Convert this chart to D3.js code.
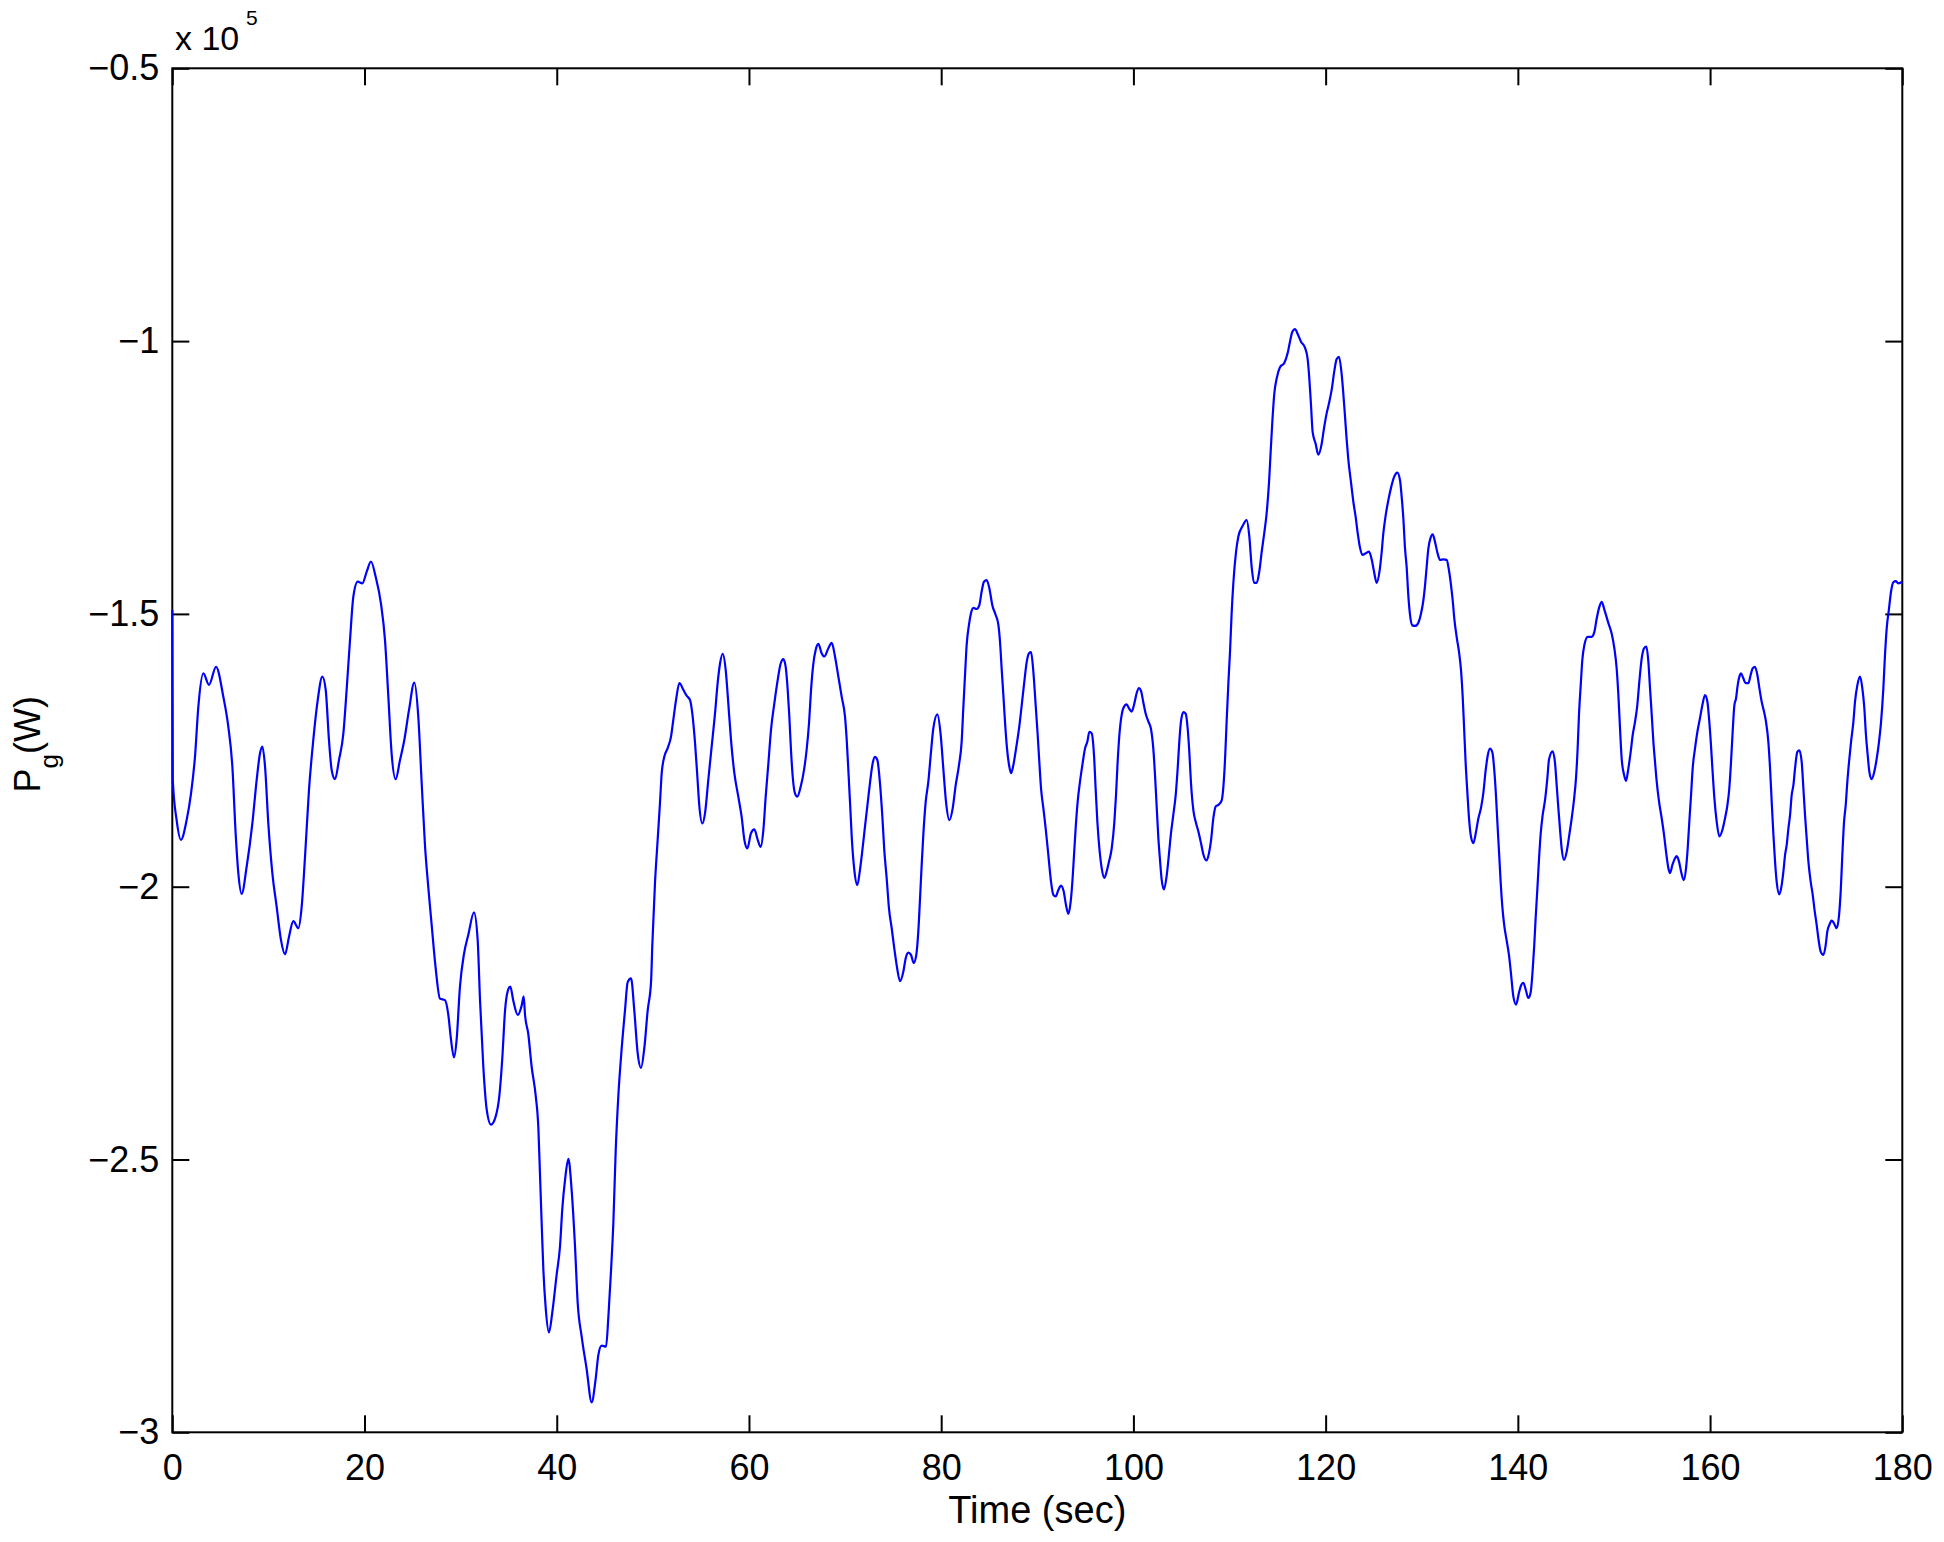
<!DOCTYPE html>
<html>
<head>
<meta charset="utf-8">
<script src="https://cdn.jsdelivr.net/npm/d3@7"></script>
<style>
  body { margin: 0; background: #fff; }
  text { font-family: "Liberation Sans", Arial, Helvetica, sans-serif; fill: #000; }
</style>
</head>
<body>
<div id="chart"></div>
<script>

// time of each sample (sec)
var timeSec = [
    0, 0.05, 0.45, 0.9, 1.49, 1.95, 2.36, 2.71, 3.23, 3.82,
    4.55, 5.31, 5.83, 6.25, 6.59, 6.87, 7.22, 7.74, 8.33, 8.78,
    9.12, 9.37, 9.65, 9.99, 10.41, 10.86, 11.31, 11.73, 12.14, 12.59,
    13.11, 13.46, 13.81, 14.22, 14.67, 15.13, 15.61, 15.96, 16.30, 16.58,
    16.93, 17.34, 17.80, 18.14, 18.49, 18.84, 19.29, 19.77, 20.22, 20.67,
    21.16, 21.71, 22.13, 22.48, 22.82, 23.24, 23.69, 24.14, 24.63, 25.18,
    25.60, 25.95, 26.29, 26.64, 26.99, 27.40, 27.85, 28.37, 28.72, 28.99,
    29.31, 29.59, 29.93, 30.35, 30.80, 31.39, 31.77, 32.02, 32.36, 32.71,
    33.16, 33.65, 34.03, 34.34, 34.62, 34.89, 35.17, 35.48, 35.94, 36.35,
    36.56, 36.70, 37.04, 37.39, 37.81, 38.09, 38.26, 38.43, 38.61, 38.85,
    39.19, 39.54, 39.99, 40.34, 40.58, 40.86, 41.21, 41.55, 41.90, 42.18,
    42.59, 43.11, 43.63, 44.05, 44.33, 44.67, 45.13, 45.37, 45.65, 45.89,
    46.13, 46.41, 46.76, 47.10, 47.38, 47.73, 48.07, 48.42, 48.77, 49.11,
    49.46, 49.81, 49.95, 50.22, 50.50, 50.74, 50.92, 51.19, 51.54, 51.89,
    52.13, 52.41, 52.76, 53.17, 53.52, 53.87, 54.14, 54.39, 54.63, 54.84,
    55.15, 55.43, 55.77, 56.12, 56.47, 56.74, 56.99, 57.26, 57.58, 57.85,
    58.13, 58.48, 58.89, 59.24, 59.52, 59.83, 60.21, 60.56, 60.91, 61.22,
    61.50, 61.74, 62.02, 62.29, 62.64, 62.99, 63.30, 63.58, 63.82, 64.03,
    64.20, 64.37, 64.55, 64.79, 65.03, 65.38, 65.73, 66.00, 66.25, 66.46,
    66.70, 66.94, 67.22, 67.56, 67.84, 68.26, 68.61, 68.95, 69.30, 69.65,
    69.99, 70.17, 70.34, 70.52, 70.69, 70.96, 71.28, 71.55, 71.80, 72.07,
    72.35, 72.59, 72.87, 73.11, 73.36, 73.63, 73.88, 74.08, 74.33, 74.57,
    74.85, 75.12, 75.37, 75.72, 76.06, 76.31, 76.58, 76.86, 77.14, 77.41,
    77.62, 77.80, 77.97, 78.14, 78.39, 78.66, 78.91, 79.18, 79.60, 79.95,
    80.22, 80.50, 80.85, 81.20, 81.51, 81.85, 82.13, 82.30, 82.48, 82.65,
    82.89, 83.10, 83.35, 83.69, 83.97, 84.21, 84.45, 84.73, 85.01, 85.32,
    85.67, 85.95, 86.12, 86.29, 86.47, 86.64, 86.85, 87.06, 87.27, 87.51,
    87.79, 88.10, 88.38, 88.65, 88.90, 89.14, 89.35, 89.59, 89.83, 90.04,
    90.21, 90.39, 90.63, 90.87, 91.15, 91.43, 91.67, 91.91, 92.19, 92.47,
    92.75, 92.99, 93.23, 93.47, 93.65, 93.82, 93.99, 94.20, 94.44, 94.69,
    94.96, 95.21, 95.42, 95.66, 95.90, 96.07, 96.25, 96.46, 96.70, 96.97,
    97.22, 97.46, 97.74, 98.02, 98.19, 98.36, 98.54, 98.78, 98.95, 99.30,
    99.54, 99.82, 100.10, 100.34, 100.58, 100.79, 101.03, 101.28, 101.55, 101.83,
    102.07, 102.25, 102.42, 102.59, 102.77, 102.94, 103.18, 103.46, 103.71, 103.91,
    104.16, 104.40, 104.61, 104.78, 104.95, 105.20, 105.44, 105.65, 105.82, 105.99,
    106.24, 106.48, 106.76, 107.03, 107.28, 107.62, 107.87, 108.07, 108.32, 108.56,
    108.84, 109.18, 109.36, 109.53, 109.70, 109.88, 110.05, 110.22, 110.40, 110.68,
    110.92, 111.33, 111.78, 112.06, 112.31, 112.55, 112.83, 113.10, 113.35, 113.62,
    113.86, 114.11, 114.28, 114.46, 114.66, 114.91, 115.25, 115.70, 116.05, 116.29,
    116.54, 116.81, 117.09, 117.44, 117.85, 118.13, 118.30, 118.48, 118.65, 118.96,
    119.24, 119.59, 119.83, 120.11, 120.35, 120.63, 120.91, 121.15, 121.39, 121.67,
    121.84, 122.02, 122.19, 122.36, 122.64, 122.88, 123.13, 123.33, 123.58, 123.82,
    124.17, 124.51, 124.79, 125.03, 125.31, 125.59, 125.83, 126.00, 126.25, 126.52,
    126.80, 127.15, 127.46, 127.74, 127.91, 128.09, 128.26, 128.43, 128.61, 128.78,
    129.02, 129.30, 129.65, 129.93, 130.17, 130.34, 130.51, 130.69, 130.93, 131.14,
    131.38, 131.62, 131.90, 132.25, 132.59, 132.84, 133.05, 133.22, 133.39, 133.64,
    133.88, 134.09, 134.26, 134.40, 134.57, 134.75, 134.92, 135.13, 135.37, 135.65,
    135.89, 136.17, 136.41, 136.65, 136.86, 137.10, 137.35, 137.55, 137.73, 137.87,
    138.04, 138.21, 138.39, 138.59, 138.84, 139.08, 139.29, 139.53, 139.81, 140.12,
    140.33, 140.57, 140.81, 141.09, 141.33, 141.54, 141.71, 141.85, 142.03, 142.20,
    142.38, 142.58, 142.83, 143.07, 143.24, 143.62, 143.87, 144.04, 144.21, 144.39,
    144.56, 144.80, 145.08, 145.32, 145.60, 145.84, 146.05, 146.22, 146.36, 146.54,
    146.71, 146.92, 147.27, 147.68, 147.96, 148.20, 148.45, 148.72, 149.00, 149.42,
    149.76, 150.04, 150.28, 150.46, 150.63, 150.80, 151.05, 151.25, 151.50, 151.74,
    151.95, 152.19, 152.43, 152.64, 152.89, 153.13, 153.37, 153.58, 153.75, 153.93,
    154.10, 154.27, 154.45, 154.69, 154.97, 155.21, 155.42, 155.66, 155.83, 156.08,
    156.35, 156.53, 156.77, 156.98, 157.26, 157.50, 157.67, 157.84, 158.02, 158.19,
    158.43, 158.68, 158.95, 159.20, 159.47, 159.72, 159.89, 160.07, 160.24, 160.45,
    160.69, 160.97, 161.28, 161.55, 161.80, 162.00, 162.18, 162.35, 162.53, 162.70,
    162.87, 163.05, 163.22, 163.46, 163.70, 163.98, 164.22, 164.43, 164.67, 164.92,
    165.13, 165.37, 165.61, 165.82, 166.06, 166.24, 166.41, 166.59, 166.76, 166.93,
    167.21, 167.45, 167.63, 167.80, 167.97, 168.15, 168.32, 168.49, 168.67, 168.84,
    169.08, 169.29, 169.53, 169.71, 169.88, 170.05, 170.23, 170.47, 170.68, 170.85,
    171.09, 171.27, 171.51, 171.79, 172.03, 172.20, 172.41, 172.65, 172.89, 173.17,
    173.42, 173.59, 173.76, 173.94, 174.11, 174.28, 174.46, 174.67, 174.91, 175.08,
    175.32, 175.60, 175.84, 176.05, 176.22, 176.40, 176.57, 176.81, 177.09, 177.34,
    177.58, 177.79, 178.03, 178.20, 178.38, 178.62, 178.83, 179.07, 179.31, 179.59,
    180.00
];

// generator power Pg, in units of 1e5 W (same order as timeSec)
var pgValues = [
    -1.493, -1.804, -1.878, -1.914, -1.878, -1.829, -1.762, -1.670, -1.609, -1.630,
    -1.597, -1.652, -1.707, -1.780, -1.902, -1.975, -2.013, -1.963, -1.884, -1.804,
    -1.756, -1.743, -1.780, -1.884, -1.975, -2.037, -2.098, -2.124, -2.092, -2.063,
    -2.076, -2.037, -1.945, -1.823, -1.731, -1.658, -1.615, -1.639, -1.731, -1.786,
    -1.803, -1.768, -1.719, -1.639, -1.548, -1.468, -1.441, -1.444, -1.423, -1.404,
    -1.432, -1.481, -1.548, -1.652, -1.756, -1.803, -1.768, -1.731, -1.676, -1.626,
    -1.690, -1.811, -1.924, -2.002, -2.071, -2.149, -2.205, -2.208, -2.235, -2.279,
    -2.313, -2.279, -2.183, -2.123, -2.088, -2.047, -2.097, -2.209, -2.330, -2.408,
    -2.436, -2.421, -2.383, -2.313, -2.227, -2.192, -2.183, -2.209, -2.235, -2.218,
    -2.201, -2.235, -2.270, -2.330, -2.383, -2.443, -2.529, -2.616, -2.703, -2.772,
    -2.817, -2.780, -2.711, -2.659, -2.590, -2.538, -2.499, -2.556, -2.659, -2.763,
    -2.824, -2.884, -2.945, -2.902, -2.858, -2.841, -2.843, -2.789, -2.703, -2.616,
    -2.486, -2.383, -2.296, -2.227, -2.175, -2.168, -2.227, -2.305, -2.332, -2.296,
    -2.227, -2.175, -2.104, -1.994, -1.914, -1.847, -1.792, -1.762, -1.746, -1.725,
    -1.694, -1.658, -1.627, -1.639, -1.650, -1.658, -1.688, -1.737, -1.798, -1.853,
    -1.884, -1.865, -1.804, -1.743, -1.682, -1.627, -1.591, -1.573, -1.603, -1.664,
    -1.731, -1.792, -1.835, -1.872, -1.914, -1.930, -1.902, -1.895, -1.914, -1.927,
    -1.896, -1.835, -1.774, -1.713, -1.664, -1.621, -1.591, -1.583, -1.597, -1.639,
    -1.688, -1.749, -1.798, -1.829, -1.835, -1.817, -1.786, -1.749, -1.700, -1.639,
    -1.591, -1.566, -1.555, -1.572, -1.578, -1.563, -1.553, -1.578, -1.615, -1.652,
    -1.688, -1.731, -1.786, -1.847, -1.908, -1.969, -1.997, -1.969, -1.933, -1.890,
    -1.847, -1.810, -1.774, -1.762, -1.768, -1.810, -1.872, -1.933, -1.985, -2.040,
    -2.076, -2.113, -2.144, -2.173, -2.156, -2.131, -2.121, -2.125, -2.140, -2.125,
    -2.082, -2.021, -1.960, -1.905, -1.844, -1.808, -1.759, -1.710, -1.684, -1.722,
    -1.783, -1.844, -1.878, -1.856, -1.814, -1.777, -1.734, -1.673, -1.612, -1.557,
    -1.520, -1.499, -1.489, -1.491, -1.484, -1.459, -1.441, -1.438, -1.453, -1.484,
    -1.502, -1.520, -1.551, -1.600, -1.649, -1.698, -1.747, -1.777, -1.792, -1.777,
    -1.747, -1.710, -1.667, -1.624, -1.588, -1.572, -1.570, -1.606, -1.667, -1.722,
    -1.771, -1.820, -1.856, -1.893, -1.942, -1.991, -2.015, -2.018, -2.006, -1.998,
    -2.009, -2.034, -2.050, -2.028, -1.991, -1.942, -1.893, -1.844, -1.808, -1.777,
    -1.747, -1.734, -1.716, -1.719, -1.759, -1.820, -1.881, -1.930, -1.966, -1.984,
    -1.972, -1.954, -1.930, -1.881, -1.832, -1.771, -1.722, -1.685, -1.673, -1.666,
    -1.673, -1.679, -1.664, -1.645, -1.636, -1.641, -1.662, -1.683, -1.697, -1.711,
    -1.747, -1.796, -1.853, -1.909, -1.952, -1.987, -2.005, -1.980, -1.938, -1.902,
    -1.867, -1.832, -1.782, -1.733, -1.697, -1.680, -1.683, -1.711, -1.754, -1.810,
    -1.860, -1.881, -1.899, -1.920, -1.941, -1.952, -1.938, -1.916, -1.874, -1.853,
    -1.850, -1.842, -1.817, -1.768, -1.697, -1.627, -1.570, -1.499, -1.443, -1.386,
    -1.358, -1.340, -1.328, -1.358, -1.415, -1.443, -1.443, -1.422, -1.386, -1.351,
    -1.316, -1.259, -1.203, -1.146, -1.096, -1.068, -1.048, -1.040, -1.022, -1.001,
    -0.983, -0.978, -0.987, -1.001, -1.012, -1.033, -1.068, -1.118, -1.167, -1.188,
    -1.208, -1.188, -1.160, -1.132, -1.114, -1.089, -1.054, -1.033, -1.029, -1.061,
    -1.096, -1.139, -1.181, -1.217, -1.259, -1.294, -1.323, -1.351, -1.379, -1.392,
    -1.389, -1.386, -1.400, -1.422, -1.443, -1.424, -1.387, -1.353, -1.319, -1.292,
    -1.269, -1.248, -1.241, -1.255, -1.285, -1.326, -1.380, -1.414, -1.468, -1.502,
    -1.521, -1.522, -1.516, -1.499, -1.475, -1.448, -1.414, -1.380, -1.360, -1.354,
    -1.368, -1.387, -1.401, -1.400, -1.401, -1.421, -1.448, -1.475, -1.509, -1.543,
    -1.570, -1.604, -1.652, -1.706, -1.774, -1.828, -1.875, -1.909, -1.920, -1.899,
    -1.875, -1.855, -1.828, -1.787, -1.760, -1.747, -1.754, -1.787, -1.835, -1.882,
    -1.936, -1.991, -2.038, -2.072, -2.099, -2.126, -2.160, -2.201, -2.216, -2.194,
    -2.181, -2.176, -2.188, -2.204, -2.194, -2.153, -2.106, -2.058, -2.004, -1.950,
    -1.902, -1.869, -1.841, -1.801, -1.767, -1.752, -1.774, -1.814, -1.855, -1.896,
    -1.930, -1.951, -1.936, -1.909, -1.875, -1.841, -1.801, -1.747, -1.685, -1.631,
    -1.584, -1.557, -1.542, -1.542, -1.533, -1.509, -1.489, -1.478, -1.492, -1.517,
    -1.536, -1.563, -1.600, -1.649, -1.710, -1.765, -1.795, -1.806, -1.783, -1.753,
    -1.722, -1.698, -1.667, -1.624, -1.581, -1.563, -1.560, -1.588, -1.636, -1.685,
    -1.734, -1.771, -1.808, -1.844, -1.875, -1.905, -1.936, -1.966, -1.975, -1.960,
    -1.948, -1.944, -1.954, -1.972, -1.988, -1.966, -1.930, -1.881, -1.832, -1.783,
    -1.747, -1.716, -1.691, -1.667, -1.649, -1.661, -1.691, -1.734, -1.783, -1.838,
    -1.881, -1.908, -1.896, -1.875, -1.851, -1.820, -1.771, -1.716, -1.667, -1.655,
    -1.631, -1.615, -1.609, -1.618, -1.627, -1.627, -1.612, -1.600, -1.597, -1.612,
    -1.636, -1.661, -1.679, -1.698, -1.734, -1.783, -1.844, -1.905, -1.954, -1.991,
    -2.014, -1.997, -1.972, -1.942, -1.924, -1.893, -1.869, -1.832, -1.814, -1.783,
    -1.753, -1.750, -1.771, -1.820, -1.869, -1.911, -1.954, -1.991, -2.015, -2.040,
    -2.070, -2.095, -2.119, -2.125, -2.107, -2.082, -2.070, -2.062, -2.067, -2.076,
    -2.052, -2.009, -1.942, -1.881, -1.851, -1.808, -1.771, -1.734, -1.698, -1.661,
    -1.631, -1.615, -1.636, -1.673, -1.722, -1.759, -1.789, -1.803, -1.789, -1.765,
    -1.734, -1.698, -1.636, -1.575, -1.526, -1.490, -1.459, -1.442, -1.440, -1.444,
    -1.441
];

// axis ticks and labels
var xTicks = [0, 20, 40, 60, 80, 100, 120, 140, 160, 180];
var yTicks = [-3, -2.5, -2, -1.5, -1, -0.5];
var yExponent = "5";
var xLabel = "Time (sec)";
var yLabelMain = "P", yLabelSub = "g", yLabelUnit = "(W)";

var fullWidth = 1944, fullHeight = 1542;
var margin = { top: 68.3, right: 41.7, bottom: 109.7, left: 172.3 },
    width = fullWidth - margin.left - margin.right,
    height = fullHeight - margin.top - margin.bottom;

var svg = d3.select("#chart")
    .append("svg")
    .attr("width", fullWidth)
    .attr("height", fullHeight)
    .style("display", "block")
    .style("background", "#fff");

var plot = svg.append("g")
    .attr("transform", "translate(" + margin.left + "," + margin.top + ")");

// scales
var x = d3.scaleLinear().domain([0, 180]).range([0, width]);
var y = d3.scaleLinear().domain([-3, -0.5]).range([height, 0]);

var tickLen = 17;
var fontFamily = '"Liberation Sans", Arial, Helvetica, sans-serif';

function styleAxis(g) {
    g.select(".domain").remove();
    g.selectAll(".tick line").attr("stroke", "#000").attr("stroke-width", 2);
    g.selectAll(".tick text").attr("fill", "#000");
    g.attr("font-size", 36).attr("font-family", fontFamily);
}

// box around the axes (drawn under the trace, like the original)
plot.append("rect")
    .attr("width", width)
    .attr("height", height)
    .attr("fill", "none")
    .attr("stroke", "#000")
    .attr("stroke-width", 2);

// bottom axis with labels, ticks pointing inward
plot.append("g")
    .attr("transform", "translate(0," + height + ")")
    .call(d3.axisBottom(x).tickValues(xTicks).tickSize(-tickLen).tickPadding(22).tickFormat(d3.format("~g")))
    .call(styleAxis);

// top axis, ticks only
plot.append("g")
    .call(d3.axisTop(x).tickValues(xTicks).tickSize(-tickLen).tickFormat(""))
    .call(styleAxis);

// left axis with labels
plot.append("g")
    .call(d3.axisLeft(y).tickValues(yTicks).tickSize(-tickLen).tickPadding(13).tickFormat(d3.format("~g")))
    .call(styleAxis);

// right axis, ticks only
plot.append("g")
    .attr("transform", "translate(" + width + ",0)")
    .call(d3.axisRight(y).tickValues(yTicks).tickSize(-tickLen).tickFormat(""))
    .call(styleAxis);

// the trace
var data = timeSec.map(function (t, i) { return { t: t, v: pgValues[i] }; });

var line = d3.line()
    .x(function (d) { return x(d.t); })
    .y(function (d) { return y(d.v); })
    .curve(d3.curveMonotoneX);

plot.append("path")
    .datum(data)
    .attr("fill", "none")
    .attr("stroke", "#0000ff")
    .attr("stroke-width", 2.2)
    .attr("stroke-linejoin", "round")
    .attr("d", line);

// exponent label above the y axis
svg.append("text")
    .attr("x", 175)
    .attr("y", 50)
    .attr("font-size", 34)
    .text("x 10");
svg.append("text")
    .attr("x", 246)
    .attr("y", 25)
    .attr("font-size", 21)
    .text(yExponent);

// x axis label
svg.append("text")
    .attr("x", margin.left + width / 2)
    .attr("y", 1523)
    .attr("text-anchor", "middle")
    .attr("font-size", 38)
    .text(xLabel);

// y axis label, with subscript
var yl = svg.append("text")
    .attr("transform", "translate(40," + (margin.top + height / 2 - 6) + ") rotate(-90)")
    .attr("text-anchor", "middle")
    .attr("font-size", 36);
yl.append("tspan").text(yLabelMain);
yl.append("tspan").attr("font-size", 26).attr("dy", 18).text(yLabelSub);
yl.append("tspan").attr("dy", -18).text(yLabelUnit);

</script>
</body>
</html>
